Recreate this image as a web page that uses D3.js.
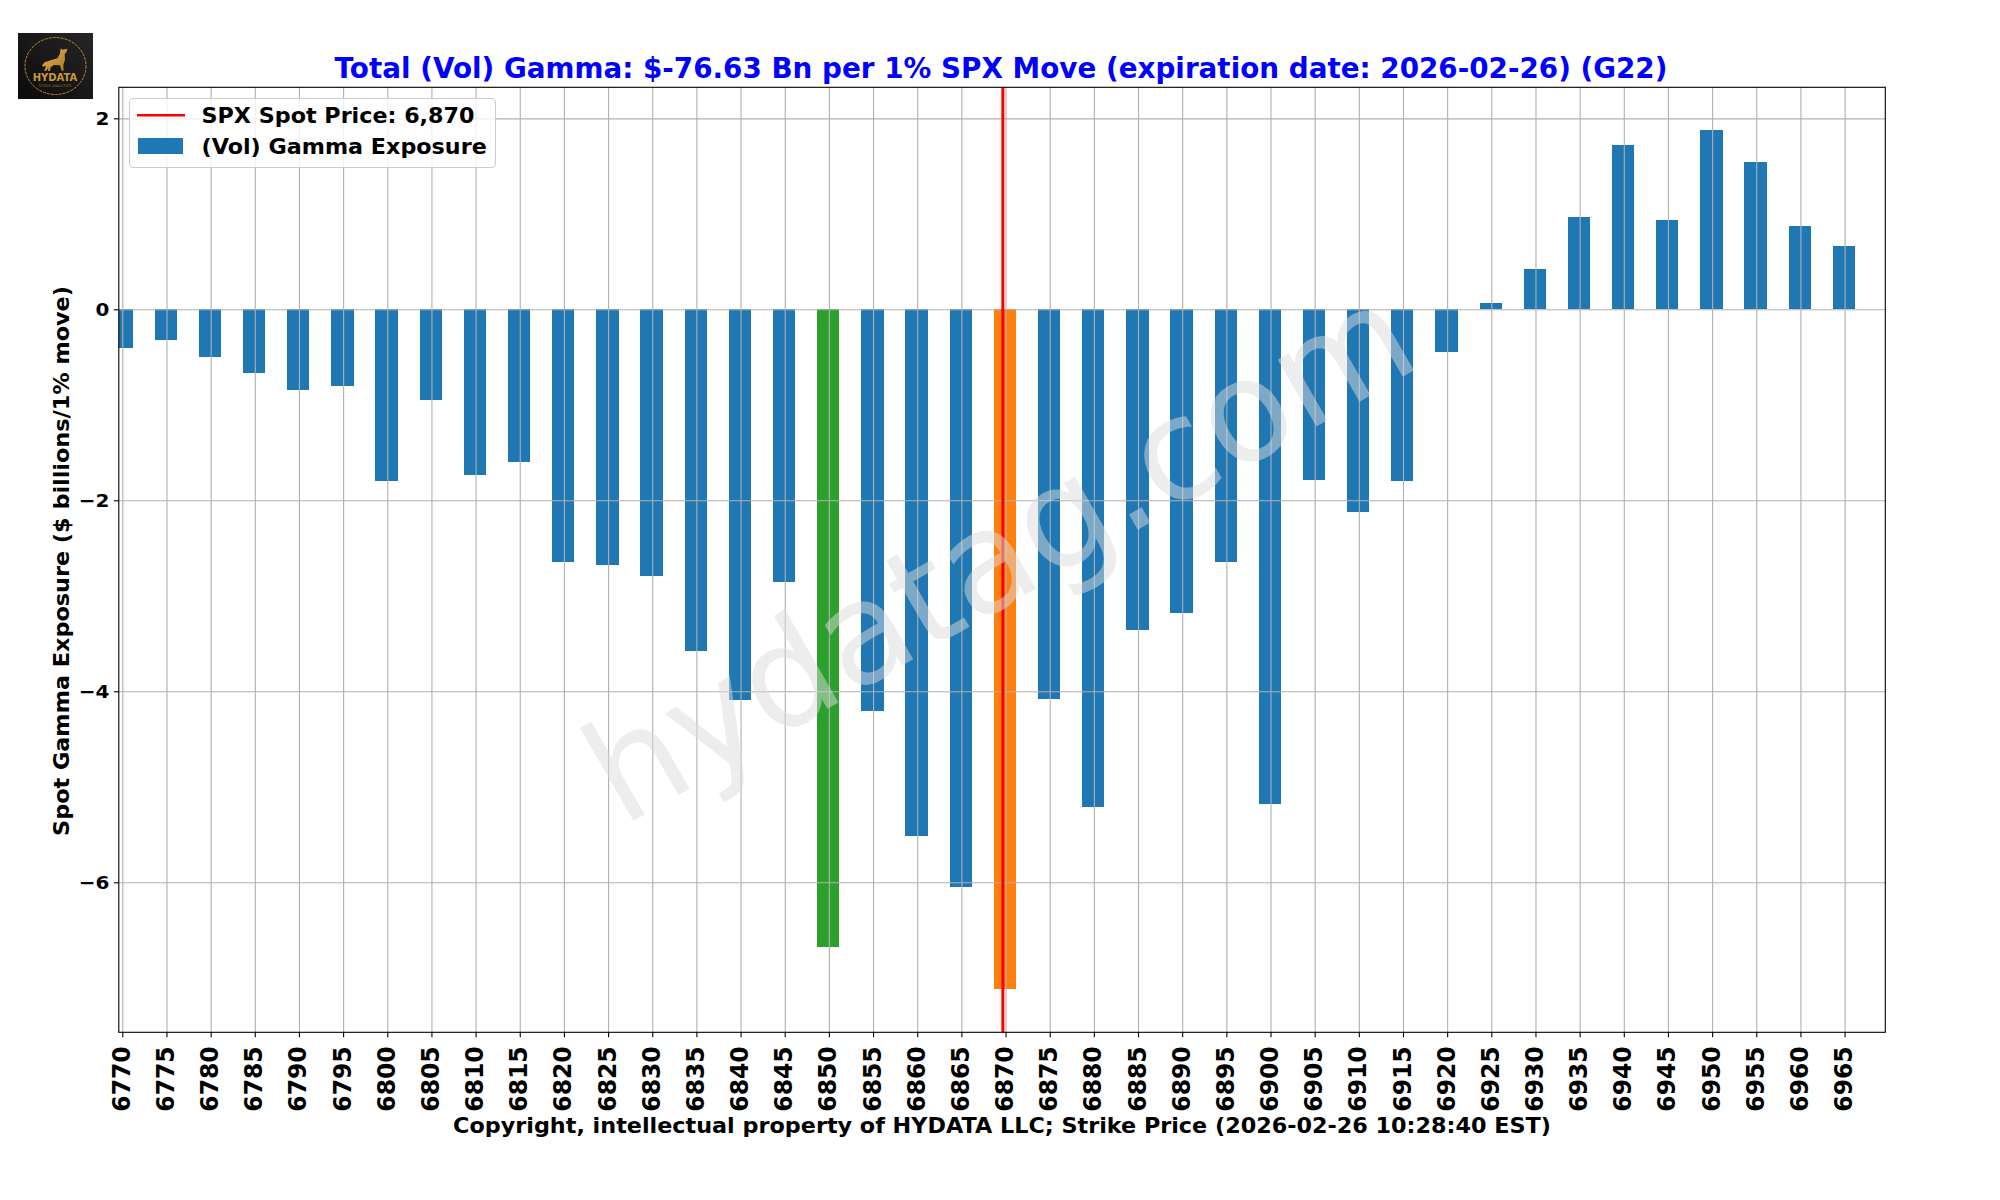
<!DOCTYPE html>
<meta charset="utf-8">
<style>
body { margin: 0; background: #fff; }
text { font-family: "DejaVu Sans", sans-serif; }
.axis text { font-weight: bold; fill: #000; }
.axis path, .axis line { stroke: #000; stroke-width: 1.1; }
.grid line { stroke: #b0b0b0; stroke-width: 1.1; }
.grid path, .grid text { display: none; }
</style>
<svg width="2000" height="1200"></svg>
<script src="https://d3js.org/d3.v7.min.js"></script>
<script>

var strikes = [6770, 6775, 6780, 6785, 6790, 6795, 6800, 6805, 6810, 6815,
               6820, 6825, 6830, 6835, 6840, 6845, 6850, 6855, 6860, 6865,
               6870, 6875, 6880, 6885, 6890, 6895, 6900, 6905, 6910, 6915,
               6920, 6925, 6930, 6935, 6940, 6945, 6950, 6955, 6960, 6965];

var gamma = [-0.403, -0.319, -0.497, -0.665, -0.843, -0.801, -1.796, -0.948, -1.733, -1.597,
             -2.644, -2.675, -2.792, -3.578, -4.091, -2.855, -6.677, -4.206, -5.515, -6.049,
             -7.117, -4.08, -5.21, -3.356, -3.178, -2.644, -5.178, -1.785, -2.12, -1.796,
             -0.445, 0.068, 0.422, 0.967, 1.721, 0.935, 1.878, 1.543, 0.873, 0.663];

var yTicks = [-6, -4, -2, 0, 2];
var spotPrice = 6869.7;
var minGammaStrike = 6850;
var spotStrike = 6870;

var svg = d3.select("svg"),
    left = 118.8, right = 1885.3, top_ = 87.3, bottom = 1032.3;

var x = d3.scaleLinear().domain([6770, 6965]).range([122.3, 1844.6]);
var y = d3.scaleLinear().domain([-7.571, 2.325]).range([bottom, top_]);

var defs = svg.append("defs");
defs.append("clipPath").attr("id", "plot")
  .append("rect")
    .attr("x", left).attr("y", top_)
    .attr("width", right - left).attr("height", bottom - top_);

var gold = defs.append("linearGradient").attr("id", "gold")
    .attr("x1", 0).attr("y1", 0).attr("x2", 1).attr("y2", 1);
gold.append("stop").attr("offset", "0%").attr("stop-color", "#e8b84a");
gold.append("stop").attr("offset", "100%").attr("stop-color", "#a8752a");

var blackBg = defs.append("linearGradient").attr("id", "logobg")
    .attr("x1", 0).attr("y1", 1).attr("x2", 1).attr("y2", 0);
blackBg.append("stop").attr("offset", "0%").attr("stop-color", "#0a0a0a");
blackBg.append("stop").attr("offset", "100%").attr("stop-color", "#262626");

// bars
function barColor(s) {
  if (s == minGammaStrike) return "#2ca02c";
  if (s == spotStrike) return "#ff7f0e";
  return "#1f77b4";
}

var rows = strikes.map(function(s, i) { return {strike: s, value: gamma[i]}; });

svg.append("g").attr("clip-path", "url(#plot)")
  .selectAll("rect")
  .data(rows)
  .enter().append("rect")
    .attr("x", function(d) { return x(d.strike) - 11.8; })
    .attr("width", 22.3)
    .attr("y", function(d) { return Math.min(y(d.value), y(0)); })
    .attr("height", function(d) { return Math.abs(y(d.value) - y(0)); })
    .attr("fill", function(d) { return barColor(d.strike); })
    .attr("shape-rendering", "crispEdges");

// grid sits over the bars
svg.append("g").attr("class", "grid")
    .attr("transform", "translate(0," + bottom + ")")
    .call(d3.axisBottom(x).tickValues(strikes).tickSize(top_ - bottom));
svg.append("g").attr("class", "grid")
    .attr("transform", "translate(" + left + ",0)")
    .call(d3.axisLeft(y).tickValues(yTicks).tickSize(left - right));

// spot price line
svg.append("line")
    .attr("x1", x(spotPrice)).attr("x2", x(spotPrice))
    .attr("y1", top_).attr("y2", bottom)
    .attr("stroke", "#ff0000").attr("stroke-width", 3);

// watermark
svg.append("text")
    .attr("transform", "translate(1005,564) rotate(-30)")
    .attr("text-anchor", "middle")
    .attr("dy", "0.26em")
    .attr("font-size", 141)
    .attr("fill", "#dcdcdc")
    .attr("fill-opacity", 0.5)
    .text("hydatag.com");

// frame
svg.append("rect")
    .attr("x", left).attr("y", top_)
    .attr("width", right - left).attr("height", bottom - top_)
    .attr("fill", "none").attr("stroke", "#000").attr("stroke-width", 1.1);

// axes
var xAxis = svg.append("g").attr("class", "axis")
    .attr("transform", "translate(0," + bottom + ")")
    .call(d3.axisBottom(x).tickValues(strikes).tickFormat(d3.format("d")).tickSize(5).tickSizeOuter(0));
xAxis.select(".domain").remove();
xAxis.selectAll("text")
    .attr("font-size", 23.5)
    .attr("text-anchor", "end")
    .attr("transform", "rotate(-90) scale(1,1.08)")
    .attr("x", -14)
    .attr("y", 6.5)
    .attr("dy", 0);

var yAxis = svg.append("g").attr("class", "axis")
    .attr("transform", "translate(" + left + ",0)")
    .call(d3.axisLeft(y).tickValues(yTicks).tickFormat(function(d) {
      return d < 0 ? "\u2212" + Math.abs(d) : d;
    }).tickSize(5).tickSizeOuter(0));
yAxis.select(".domain").remove();
yAxis.selectAll("text")
    .attr("font-size", 18.5)
    .attr("x", 0)
    .attr("transform", "translate(-9.5,0) scale(1.08,1)");

// titles
svg.append("text")
    .attr("x", 1001).attr("y", 78)
    .attr("text-anchor", "middle")
    .attr("font-size", 27.8).attr("font-weight", "bold")
    .attr("fill", "#0000ff")
    .text("Total (Vol) Gamma: $-76.63 Bn per 1% SPX Move (expiration date: 2026-02-26) (G22)");

svg.append("text")
    .attr("transform", "translate(1002,1133) scale(1.062,1)")
    .attr("text-anchor", "middle")
    .attr("font-size", 21).attr("font-weight", "bold")
    .text("Copyright, intellectual property of HYDATA LLC; Strike Price (2026-02-26 10:28:40 EST)");

svg.append("text")
    .attr("transform", "translate(68.5,561) rotate(-90) scale(1.064,1)")
    .attr("text-anchor", "middle")
    .attr("font-size", 21).attr("font-weight", "bold")
    .text("Spot Gamma Exposure ($ billions/1% move)");

// legend
var legend = svg.append("g");
legend.append("rect")
    .attr("x", 129.5).attr("y", 98.5).attr("width", 366).attr("height", 69)
    .attr("rx", 4).attr("fill", "#fff").attr("fill-opacity", 0.8)
    .attr("stroke", "#cccccc").attr("stroke-width", 1.1);
legend.append("line")
    .attr("x1", 137).attr("x2", 185).attr("y1", 115.3).attr("y2", 115.3)
    .attr("stroke", "#ff0000").attr("stroke-width", 2.6);
legend.append("rect")
    .attr("x", 138).attr("y", 138).attr("width", 45).attr("height", 16)
    .attr("fill", "#1f77b4");
legend.append("text")
    .attr("transform", "translate(201.5,122.7) scale(1.06,1)")
    .attr("font-size", 21).attr("font-weight", "bold")
    .text("SPX Spot Price: 6,870");
legend.append("text")
    .attr("transform", "translate(201.5,153.5) scale(1.06,1)")
    .attr("font-size", 21).attr("font-weight", "bold")
    .text("(Vol) Gamma Exposure");

// logo
var logo = svg.append("g");
logo.append("rect")
    .attr("x", 18).attr("y", 33).attr("width", 75).attr("height", 66)
    .attr("fill", "url(#logobg)");
logo.append("ellipse")
    .attr("cx", 55.5).attr("cy", 66).attr("rx", 30.5).attr("ry", 28.5)
    .attr("fill", "none").attr("stroke", "#b98a35").attr("stroke-width", 1)
    .attr("stroke-dasharray", "3 1");
logo.append("path")
    .attr("transform", "translate(10,25) scale(0.3333)")
    .attr("fill", "url(#gold)")
    .attr("d", "M96,121 L104,112 L122,106 L142,100 L150,86 L152,70 L157,74 L172,71 L170,80 L164,88 L165,104 L160,120 L161,137 L155,137 L150,121 L132,120 L122,127 L120,138 L114,138 L115,128 L108,138 L103,138 L108,122 L100,125 Z");
logo.append("text")
    .attr("x", 55).attr("y", 81)
    .attr("text-anchor", "middle")
    .attr("font-size", 10).attr("font-weight", "bold")
    .attr("fill", "#c99a3c")
    .text("HYDATA");
logo.append("text")
    .attr("x", 55).attr("y", 86.5)
    .attr("text-anchor", "middle")
    .attr("font-size", 3.6)
    .attr("fill", "#9c7a38")
    .text("STOCK ANALYTICS");

</script>
